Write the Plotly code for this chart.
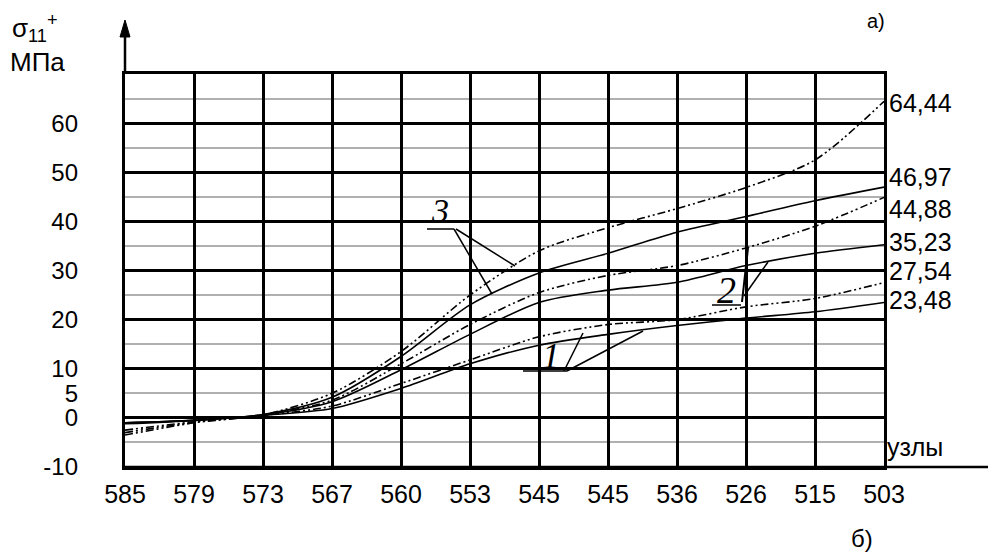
import plotly.graph_objects as go

# ---- data ----
node_labels = ["585", "579", "573", "567", "560", "553", "545", "545", "536", "526", "515", "503"]
x_pos = list(range(len(node_labels)))

s1 = [-1.0, -0.5, 0.5, 1.9, 6.0, 11.0, 14.8, 17.0, 18.8, 20.3, 21.6, 23.48]
dd1 = [-2.5, -0.8, 0.5, 2.4, 7.0, 11.8, 16.5, 19.0, 20.0, 22.6, 24.3, 27.54]
s2 = [-1.0, -0.5, 0.6, 3.3, 9.8, 17.0, 23.5, 26.0, 27.6, 31.0, 33.5, 35.23]
dd2 = [-3.0, -0.9, 0.6, 3.6, 11.0, 19.0, 25.5, 29.0, 31.0, 34.6, 39.0, 44.88]
s3 = [-1.2, -0.5, 0.7, 4.2, 12.5, 23.0, 29.5, 33.5, 37.8, 41.0, 44.2, 46.97]
dd3 = [-3.5, -1.0, 0.6, 5.0, 13.5, 25.0, 34.0, 38.7, 42.6, 46.9, 52.5, 64.44]

y_tick_vals = [-10, 0, 5, 10, 20, 30, 40, 50, 60]
y_tick_text = ["-10", "0", "5", "10", "20", "30", "40", "50", "60"]

# ---- geometry (page pixels; the page body adds an 8px offset) ----
OFF = 8
W, H = 996, 554
L, R, T, B = 125, 884, 74, 467
FIG_W, FIG_H = W - OFF, H - OFF

def px(x):
    return (x - L) / (R - L)
def py(y):
    return (B - y) / (B - T)

FONT = "Liberation Sans"
DASH = "8px,3px,2px,3px,2px,3px"

fig = go.Figure()
series = [
    (dd3, DASH), (s3, "solid"),
    (dd2, DASH), (s2, "solid"),
    (dd1, DASH), (s1, "solid"),
]
for vals, dash in series:
    fig.add_trace(go.Scatter(
        x=x_pos, y=vals, mode="lines",
        line=dict(color="black", width=1.6, dash=dash, shape="spline", smoothing=0.8),
        showlegend=False, hoverinfo="skip"))

# invisible trace for the label axis
fig.add_trace(go.Scatter(x=[0], y=[0], yaxis="y2", mode="markers",
                         marker=dict(opacity=0), showlegend=False, hoverinfo="skip"))

shapes = []
shapes.append(dict(type="line", xref="paper", yref="paper", x0=0, x1=px(W + 5), y0=0, y1=0,
                   line=dict(color="black", width=2.5)))
shapes.append(dict(type="line", xref="paper", yref="paper", x0=0, x1=0, y0=1, y1=py(30),
                   line=dict(color="black", width=2.5)))
shapes.append(dict(type="path", xref="paper", yref="paper",
                   path=f"M {px(L-5)} {py(37)} L {px(L+5)} {py(37)} L {px(L)} {py(20)} Z",
                   fillcolor="black", line=dict(color="black", width=1)))

def seg(x0, y0, x1, y1, w=1.5):
    shapes.append(dict(type="line", xref="paper", yref="paper",
                       x0=px(x0), y0=py(y0), x1=px(x1), y1=py(y1),
                       line=dict(color="black", width=w)))

# label 3
seg(427, 229, 454, 229)
seg(454, 229, 492, 294)
seg(456, 229, 515, 266)
# label 1
seg(523, 371, 567, 371)
seg(564, 371, 583, 333)
seg(567, 371, 643, 331)
# label 2
seg(712, 305, 741, 305)
seg(742, 302, 748, 248, 2)
seg(744, 296, 768, 262)

annotations = []
def txt(text, x, y, size=26, xanchor="center", family=FONT):
    annotations.append(dict(text=text, x=px(x), y=py(y), xref="paper", yref="paper",
                            xanchor=xanchor, yanchor="middle", showarrow=False,
                            font=dict(family=family, size=size, color="black")))

txt("σ<sub>11</sub><sup>+</sup>", 10, 28, size=26, xanchor="left")
txt("МПа", 8, 62, size=26, xanchor="left")
txt("а)", 876, 21, size=20)
txt("б)", 862, 538, size=24)
txt("узлы", 885, 447, size=25, xanchor="left")

end_vals = [dd3[-1], s3[-1], dd2[-1], s2[-1], dd1[-1], s1[-1]]
end_label_px = [103, 177, 209, 242, 271, 300]
for v, ypix in zip(end_vals, end_label_px):
    txt(f"{v:.2f}".replace(".", ","), 887, ypix, size=25, xanchor="left")

txt("<i>3</i>", 440, 211, size=34, family="Liberation Serif")
txt("<i>1</i>", 551, 356, size=36, family="Liberation Serif")
txt("<i>2</i>", 726, 290, size=38, family="Liberation Serif")

fig.update_layout(
    width=FIG_W, height=FIG_H,
    margin=dict(l=L - OFF, r=W - R, t=T - OFF, b=H - B, pad=0),
    paper_bgcolor="white", plot_bgcolor="white",
    shapes=shapes, annotations=annotations,
    xaxis=dict(range=[0, 11], tickmode="array", tickvals=x_pos, ticktext=node_labels,
               showgrid=True, gridcolor="black", gridwidth=2.5, zeroline=False,
               showline=True, linecolor="black", linewidth=2.5, mirror=True,
               ticks="", ticklabelstandoff=3,
               tickfont=dict(family=FONT, size=25, color="black")),
    yaxis=dict(range=[-10, 70], tickmode="linear", tick0=-10, dtick=10,
               showgrid=True, gridcolor="black", gridwidth=2.5, zeroline=False,
               showticklabels=False, ticks="",
               minor=dict(tickmode="linear", tick0=-10, dtick=5, showgrid=True,
                          gridcolor="#b0b0b0", gridwidth=1.5),
               showline=True, linecolor="black", linewidth=2.5, mirror=True),
    yaxis2=dict(range=[-10, 70], overlaying="y", side="left", tickmode="array",
                tickvals=y_tick_vals, ticktext=y_tick_text, showgrid=False, zeroline=False,
                ticks="", ticklabelstandoff=46, showline=False,
                tickfont=dict(family=FONT, size=24, color="black")),
)

fig.write_html("out.html")
